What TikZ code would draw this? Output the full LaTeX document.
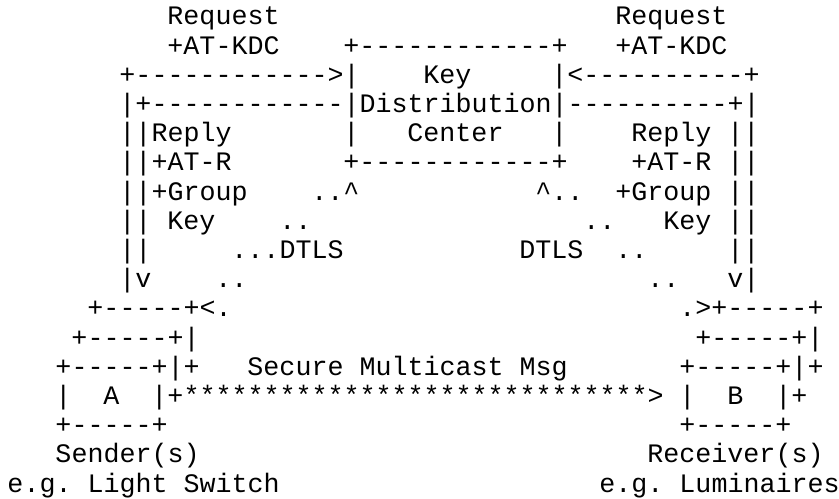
\documentclass[tikz,border=0pt]{standalone}
\usepackage{fontspec}
\setmonofont{Liberation Mono}
\usetikzlibrary{positioning}

\begin{document}
\begin{tikzpicture}[x=16pt, y=-29.2pt,
  txt/.style={anchor=base west, inner sep=0pt, outer sep=0pt,
              font=\ttfamily\fontsize{26.67}{29.2}\selectfont}]
  \useasboundingbox (-0.46875,-0.856) rectangle (51.97,16.233);
  % key distribution center and the request/reply paths
  \node[txt] (reqL) at (10,0) {Request};
  \node[txt] (reqR) at (38,0) {Request};
  \node[txt] (atkdcL) at (10,1) {+AT-KDC};
  \node[txt] (kdcTop) at (21,1) {+------------+};
  \node[txt] (atkdcR) at (38,1) {+AT-KDC};
  \node[txt] (reqArrL) at (7,2) {+------------>|};
  \node[txt] (kdcKey) at (26,2) {Key};
  \node[txt] (reqArrR) at (34,2) {|<----------+};
  \node[txt] (replyLine) at (7,3) {|+------------|Distribution|----------+|};
  \node[txt] (replyL) at (7,4) {||Reply};
  \node[txt] (kdcSideL) at (21,4) {|};
  \node[txt] (kdcCenter) at (25,4) {Center};
  \node[txt] (kdcSideR) at (34,4) {|};
  \node[txt] (replyR) at (39,4) {Reply};
  \node[txt] (barsR1) at (45,4) {||};
  \node[txt] (atrL) at (7,5) {||+AT-R};
  \node[txt] (kdcBot) at (21,5) {+------------+};
  \node[txt] (atrR) at (39,5) {+AT-R};
  \node[txt] (barsR2) at (45,5) {||};
  \node[txt] (groupL) at (7,6) {||+Group};
  \node[txt] (dtlsUpL) at (19,6) {..\textasciicircum};
  \node[txt] (dtlsUpR) at (33,6) {\textasciicircum..};
  \node[txt] (groupR) at (38,6) {+Group};
  \node[txt] (barsR3) at (45,6) {||};
  \node[txt] (barsL4) at (7,7) {||};
  \node[txt] (gkeyL) at (10,7) {Key};
  \node[txt] (dotsL1) at (17,7) {..};
  \node[txt] (dotsR1) at (36,7) {..};
  \node[txt] (gkeyR) at (41,7) {Key};
  \node[txt] (barsR4) at (45,7) {||};
  \node[txt] (barsL5) at (7,8) {||};
  \node[txt] (dtlsL) at (14,8) {...DTLS};
  \node[txt] (dtlsR) at (32,8) {DTLS};
  \node[txt] (dotsR2) at (38,8) {..};
  \node[txt] (barsR5) at (45,8) {||};
  \node[txt] (downL) at (7,9) {|v};
  \node[txt] (dotsL3) at (13,9) {..};
  \node[txt] (dotsR3) at (40,9) {..};
  \node[txt] (downR) at (45,9) {v|};
  % senders and receivers
  \node[txt] (sendTop3) at (5,10) {+-----+<.};
  \node[txt] (recvTop3) at (42,10) {.>+-----+};
  \node[txt] (sendTop2) at (4,11) {+-----+|};
  \node[txt] (recvTop2) at (43,11) {+-----+|};
  \node[txt] (sendTop1) at (3,12) {+-----+|+};
  \node[txt] (msgLabel) at (15,12) {Secure Multicast Msg};
  \node[txt] (recvTop1) at (42,12) {+-----+|+};
  \node[txt] (sendSide) at (3,13) {|};
  \node[txt] (nodeA) at (6,13) {A};
  \node[txt] (msgArr) at (9,13) {|+*****************************>};
  \node[txt] (recvSide) at (42,13) {|};
  \node[txt] (nodeB) at (45,13) {B};
  \node[txt] (recvSideR) at (48,13) {|+};
  \node[txt] (sendBot) at (3,14) {+-----+};
  \node[txt] (recvBot) at (42,14) {+-----+};
  \node[txt] (sender) at (3,15) {Sender(s)};
  \node[txt] (receiver) at (40,15) {Receiver(s)};
  \node[txt] (egL) at (0,16) {e.g. Light Switch};
  \node[txt] (egR) at (37,16) {e.g. Luminaires};
\end{tikzpicture}
\end{document}
